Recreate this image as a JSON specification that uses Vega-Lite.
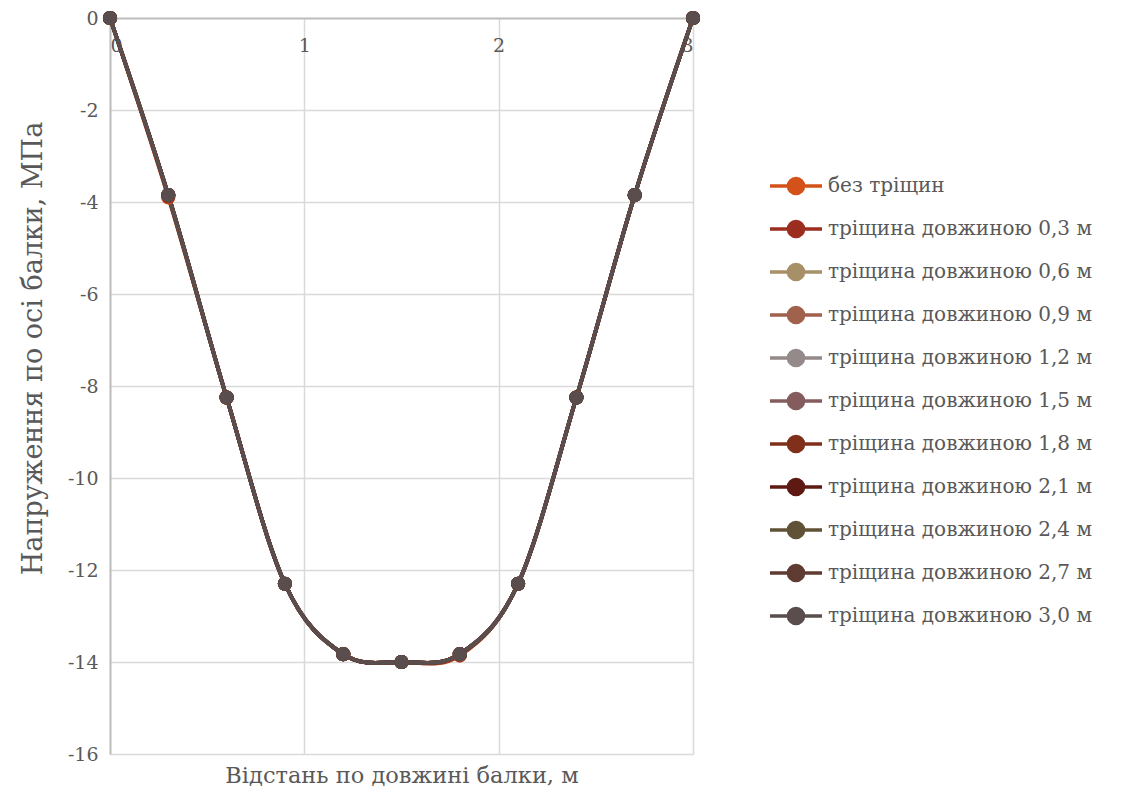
{
  "$schema": "https://vega.github.io/schema/vega-lite/v6.json",
  "width": 583,
  "height": 736,
  "autosize": {"type": "none"},
  "padding": {"left": 110, "top": 18, "right": 434, "bottom": 35},
  "background": "white",
  "config": {"view": {"stroke": null}, "font": "DejaVu Serif"},
  "data": {"values": [
    {"s":"без тріщин","x":0,"y":0},{"s":"без тріщин","x":0.3,"y":-3.9},{"s":"без тріщин","x":0.6,"y":-8.25},{"s":"без тріщин","x":0.9,"y":-12.3},{"s":"без тріщин","x":1.2,"y":-13.83},{"s":"без тріщин","x":1.5,"y":-14.0},{"s":"без тріщин","x":1.8,"y":-13.86},{"s":"без тріщин","x":2.1,"y":-12.3},{"s":"без тріщин","x":2.4,"y":-8.25},{"s":"без тріщин","x":2.7,"y":-3.85},{"s":"без тріщин","x":3.0,"y":0},
    {"s":"тріщина довжиною 0,3 м","x":0,"y":0},{"s":"тріщина довжиною 0,3 м","x":0.3,"y":-3.88},{"s":"тріщина довжиною 0,3 м","x":0.6,"y":-8.25},{"s":"тріщина довжиною 0,3 м","x":0.9,"y":-12.3},{"s":"тріщина довжиною 0,3 м","x":1.2,"y":-13.83},{"s":"тріщина довжиною 0,3 м","x":1.5,"y":-14.0},{"s":"тріщина довжиною 0,3 м","x":1.8,"y":-13.85},{"s":"тріщина довжиною 0,3 м","x":2.1,"y":-12.3},{"s":"тріщина довжиною 0,3 м","x":2.4,"y":-8.25},{"s":"тріщина довжиною 0,3 м","x":2.7,"y":-3.85},{"s":"тріщина довжиною 0,3 м","x":3.0,"y":0},
    {"s":"тріщина довжиною 0,6 м","x":0,"y":0},{"s":"тріщина довжиною 0,6 м","x":0.3,"y":-3.85},{"s":"тріщина довжиною 0,6 м","x":0.6,"y":-8.25},{"s":"тріщина довжиною 0,6 м","x":0.9,"y":-12.3},{"s":"тріщина довжиною 0,6 м","x":1.2,"y":-13.83},{"s":"тріщина довжиною 0,6 м","x":1.5,"y":-14.0},{"s":"тріщина довжиною 0,6 м","x":1.8,"y":-13.83},{"s":"тріщина довжиною 0,6 м","x":2.1,"y":-12.3},{"s":"тріщина довжиною 0,6 м","x":2.4,"y":-8.25},{"s":"тріщина довжиною 0,6 м","x":2.7,"y":-3.85},{"s":"тріщина довжиною 0,6 м","x":3.0,"y":0},
    {"s":"тріщина довжиною 0,9 м","x":0,"y":0},{"s":"тріщина довжиною 0,9 м","x":0.3,"y":-3.85},{"s":"тріщина довжиною 0,9 м","x":0.6,"y":-8.25},{"s":"тріщина довжиною 0,9 м","x":0.9,"y":-12.3},{"s":"тріщина довжиною 0,9 м","x":1.2,"y":-13.83},{"s":"тріщина довжиною 0,9 м","x":1.5,"y":-14.0},{"s":"тріщина довжиною 0,9 м","x":1.8,"y":-13.83},{"s":"тріщина довжиною 0,9 м","x":2.1,"y":-12.3},{"s":"тріщина довжиною 0,9 м","x":2.4,"y":-8.25},{"s":"тріщина довжиною 0,9 м","x":2.7,"y":-3.85},{"s":"тріщина довжиною 0,9 м","x":3.0,"y":0},
    {"s":"тріщина довжиною 1,2 м","x":0,"y":0},{"s":"тріщина довжиною 1,2 м","x":0.3,"y":-3.85},{"s":"тріщина довжиною 1,2 м","x":0.6,"y":-8.25},{"s":"тріщина довжиною 1,2 м","x":0.9,"y":-12.3},{"s":"тріщина довжиною 1,2 м","x":1.2,"y":-13.83},{"s":"тріщина довжиною 1,2 м","x":1.5,"y":-14.0},{"s":"тріщина довжиною 1,2 м","x":1.8,"y":-13.83},{"s":"тріщина довжиною 1,2 м","x":2.1,"y":-12.3},{"s":"тріщина довжиною 1,2 м","x":2.4,"y":-8.25},{"s":"тріщина довжиною 1,2 м","x":2.7,"y":-3.85},{"s":"тріщина довжиною 1,2 м","x":3.0,"y":0},
    {"s":"тріщина довжиною 1,5 м","x":0,"y":0},{"s":"тріщина довжиною 1,5 м","x":0.3,"y":-3.85},{"s":"тріщина довжиною 1,5 м","x":0.6,"y":-8.25},{"s":"тріщина довжиною 1,5 м","x":0.9,"y":-12.3},{"s":"тріщина довжиною 1,5 м","x":1.2,"y":-13.83},{"s":"тріщина довжиною 1,5 м","x":1.5,"y":-14.0},{"s":"тріщина довжиною 1,5 м","x":1.8,"y":-13.83},{"s":"тріщина довжиною 1,5 м","x":2.1,"y":-12.3},{"s":"тріщина довжиною 1,5 м","x":2.4,"y":-8.25},{"s":"тріщина довжиною 1,5 м","x":2.7,"y":-3.85},{"s":"тріщина довжиною 1,5 м","x":3.0,"y":0},
    {"s":"тріщина довжиною 1,8 м","x":0,"y":0},{"s":"тріщина довжиною 1,8 м","x":0.3,"y":-3.85},{"s":"тріщина довжиною 1,8 м","x":0.6,"y":-8.25},{"s":"тріщина довжиною 1,8 м","x":0.9,"y":-12.3},{"s":"тріщина довжиною 1,8 м","x":1.2,"y":-13.83},{"s":"тріщина довжиною 1,8 м","x":1.5,"y":-14.0},{"s":"тріщина довжиною 1,8 м","x":1.8,"y":-13.83},{"s":"тріщина довжиною 1,8 м","x":2.1,"y":-12.3},{"s":"тріщина довжиною 1,8 м","x":2.4,"y":-8.25},{"s":"тріщина довжиною 1,8 м","x":2.7,"y":-3.85},{"s":"тріщина довжиною 1,8 м","x":3.0,"y":0},
    {"s":"тріщина довжиною 2,1 м","x":0,"y":0},{"s":"тріщина довжиною 2,1 м","x":0.3,"y":-3.85},{"s":"тріщина довжиною 2,1 м","x":0.6,"y":-8.25},{"s":"тріщина довжиною 2,1 м","x":0.9,"y":-12.3},{"s":"тріщина довжиною 2,1 м","x":1.2,"y":-13.83},{"s":"тріщина довжиною 2,1 м","x":1.5,"y":-14.0},{"s":"тріщина довжиною 2,1 м","x":1.8,"y":-13.83},{"s":"тріщина довжиною 2,1 м","x":2.1,"y":-12.3},{"s":"тріщина довжиною 2,1 м","x":2.4,"y":-8.25},{"s":"тріщина довжиною 2,1 м","x":2.7,"y":-3.85},{"s":"тріщина довжиною 2,1 м","x":3.0,"y":0},
    {"s":"тріщина довжиною 2,4 м","x":0,"y":0},{"s":"тріщина довжиною 2,4 м","x":0.3,"y":-3.85},{"s":"тріщина довжиною 2,4 м","x":0.6,"y":-8.25},{"s":"тріщина довжиною 2,4 м","x":0.9,"y":-12.3},{"s":"тріщина довжиною 2,4 м","x":1.2,"y":-13.83},{"s":"тріщина довжиною 2,4 м","x":1.5,"y":-14.0},{"s":"тріщина довжиною 2,4 м","x":1.8,"y":-13.83},{"s":"тріщина довжиною 2,4 м","x":2.1,"y":-12.3},{"s":"тріщина довжиною 2,4 м","x":2.4,"y":-8.25},{"s":"тріщина довжиною 2,4 м","x":2.7,"y":-3.85},{"s":"тріщина довжиною 2,4 м","x":3.0,"y":0},
    {"s":"тріщина довжиною 2,7 м","x":0,"y":0},{"s":"тріщина довжиною 2,7 м","x":0.3,"y":-3.85},{"s":"тріщина довжиною 2,7 м","x":0.6,"y":-8.25},{"s":"тріщина довжиною 2,7 м","x":0.9,"y":-12.3},{"s":"тріщина довжиною 2,7 м","x":1.2,"y":-13.83},{"s":"тріщина довжиною 2,7 м","x":1.5,"y":-14.0},{"s":"тріщина довжиною 2,7 м","x":1.8,"y":-13.83},{"s":"тріщина довжиною 2,7 м","x":2.1,"y":-12.3},{"s":"тріщина довжиною 2,7 м","x":2.4,"y":-8.25},{"s":"тріщина довжиною 2,7 м","x":2.7,"y":-3.85},{"s":"тріщина довжиною 2,7 м","x":3.0,"y":0},
    {"s":"тріщина довжиною 3,0 м","x":0,"y":0},{"s":"тріщина довжиною 3,0 м","x":0.3,"y":-3.85},{"s":"тріщина довжиною 3,0 м","x":0.6,"y":-8.25},{"s":"тріщина довжиною 3,0 м","x":0.9,"y":-12.3},{"s":"тріщина довжиною 3,0 м","x":1.2,"y":-13.83},{"s":"тріщина довжиною 3,0 м","x":1.5,"y":-14.0},{"s":"тріщина довжиною 3,0 м","x":1.8,"y":-13.83},{"s":"тріщина довжиною 3,0 м","x":2.1,"y":-12.3},{"s":"тріщина довжиною 3,0 м","x":2.4,"y":-8.25},{"s":"тріщина довжиною 3,0 м","x":2.7,"y":-3.85},{"s":"тріщина довжиною 3,0 м","x":3.0,"y":0}
  ]},
  "encoding": {
    "x": {
      "field": "x", "type": "quantitative",
      "scale": {"domain": [0, 3], "nice": false, "zero": false},
      "axis": {
        "orient": "top", "values": [0, 1, 2, 3], "format": "d",
        "grid": true, "gridColor": "#d9d9d9", "gridWidth": 1.5,
        "domain": true, "domainColor": "#bfbfbf", "domainWidth": 2,
        "ticks": false, "labelPadding": -27, "labelBaseline": "middle",
        "labelFont": "DejaVu Serif", "labelFontSize": 19, "labelColor": "#595959",
        "title": "Відстань по довжині балки, м",
        "titleX": 291.5, "titleY": 757, "titleBaseline": "middle", "titleAlign": "center",
        "titleFont": "DejaVu Serif", "titleFontSize": 22.5, "titleFontWeight": "normal", "titleColor": "#595959"
      }
    },
    "y": {
      "field": "y", "type": "quantitative",
      "scale": {"domain": [-16, 0], "nice": false, "zero": false},
      "axis": {
        "orient": "left", "values": [-16, -14, -12, -10, -8, -6, -4, -2, 0],
        "labelExpr": "replace(datum.label, '−', '-')",
        "grid": true, "gridColor": "#d9d9d9", "gridWidth": 1.5,
        "domain": true, "domainColor": "#bfbfbf", "domainWidth": 2,
        "ticks": false, "labelPadding": 12,
        "labelFont": "DejaVu Serif", "labelFontSize": 19, "labelColor": "#595959",
        "title": "Напруження по осі балки, МПа",
        "titleX": -77, "titleY": 330, "titleAngle": -90, "titleBaseline": "middle", "titleAlign": "center",
        "titleFont": "DejaVu Serif", "titleFontSize": 27, "titleFontWeight": "normal", "titleColor": "#595959"
      }
    },
    "color": {
      "field": "s", "type": "nominal",
      "scale": {
        "domain": ["без тріщин","тріщина довжиною 0,3 м","тріщина довжиною 0,6 м","тріщина довжиною 0,9 м","тріщина довжиною 1,2 м","тріщина довжиною 1,5 м","тріщина довжиною 1,8 м","тріщина довжиною 2,1 м","тріщина довжиною 2,4 м","тріщина довжиною 2,7 м","тріщина довжиною 3,0 м"],
        "range": ["#D4521A","#9C2E1F","#A78F68","#A0614D","#958A8A","#855C5E","#80301A","#5E1A12","#5F5236","#5F3B31","#5A4D4D"]
      },
      "legend": {
        "orient": "none", "legendX": 658, "legendY": 140, "title": null,
        "symbolType": "M-1,0H1M-0.29,0A0.29,0.29,0,1,1,0.29,0A0.29,0.29,0,1,1,-0.29,0Z",
        "symbolSize": 2704, "symbolStrokeWidth": 3.5,
        "labelFont": "DejaVu Serif", "labelFontSize": 20, "labelColor": "#595959",
        "labelOffset": 4, "rowPadding": -7.5, "labelLimit": 400
      }
    }
  },
  "layer": [
    {"mark": {"type": "line", "interpolate": "cardinal", "strokeWidth": 3.8}},
    {"mark": {"type": "point", "filled": true, "size": 200, "opacity": 1}}
  ]
}
